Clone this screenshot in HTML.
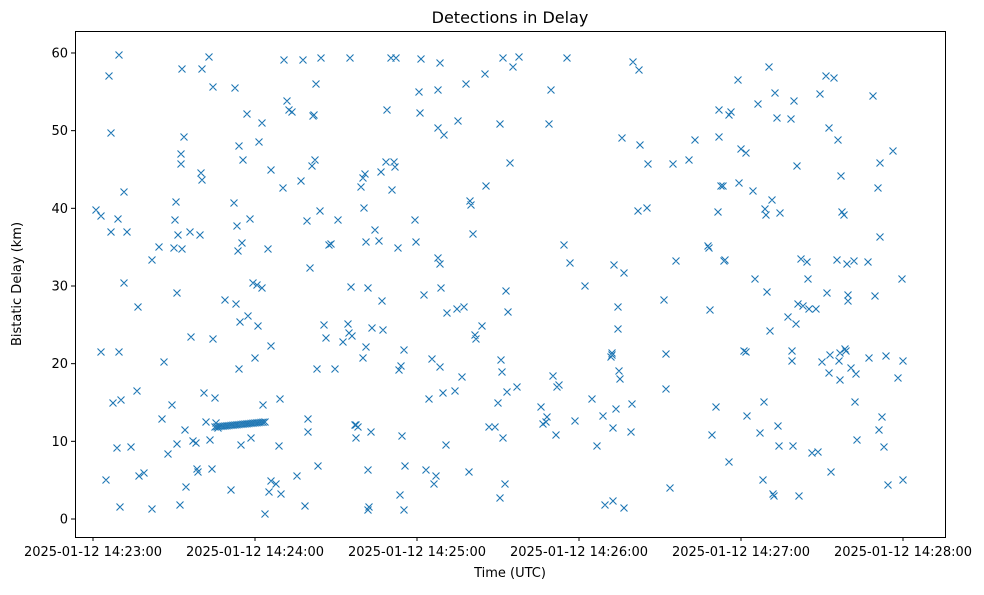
<!DOCTYPE html>
<html><head><meta charset="utf-8"><style>
body{margin:0;background:#fff;}
svg text{font-family:"DejaVu Sans","Liberation Sans",sans-serif;fill:#000;}
</style></head><body>
<svg id="s" width="984" height="590" xmlns="http://www.w3.org/2000/svg">
<rect x="0" y="0" width="984" height="590" fill="#fff"/>
<text x="510" y="23" font-size="16" text-anchor="middle">Detections in Delay</text>
<g id="pts" stroke="#1f77b4" stroke-width="1.1" fill="none"></g>
<rect x="75.5" y="31.5" width="870" height="506" fill="none" stroke="#000" stroke-width="1"/>
<g id="ticks" stroke="#000" stroke-width="1"></g>
<g id="labels" font-size="13"></g>
<text x="510" y="577" font-size="13" text-anchor="middle">Time (UTC)</text>
<text transform="translate(21,284) rotate(-90)" font-size="13" text-anchor="middle">Bistatic Delay (km)</text>
</svg>
<script>
const ns="http://www.w3.org/2000/svg";
const P=[[96,210],[101,216],[101,352],[106,480],[109,76],[111,133],[111,232],[113,403],[117,448],[118,219],[119,352],[119,55],[120,507],[121,400],[124,283],[124,192],[127,232],[131,447],[137,391],[138,307],[139,476],[144,473],[152,509],[152,260],[159,247],[162,419],[164,362],[168,454],[172,405],[174,248],[175,220],[176,202],[177,293],[177,444],[178,235],[180,505],[181,164],[181,154],[182,69],[184,137],[182,249],[185,430],[186,487],[190,232],[191,337],[193,441],[196,443],[197,469],[198,472],[200,235],[202,69],[201,173],[202,180],[204,393],[206,422],[209,57],[210,440],[212,469],[213,87],[213,339],[215,398],[216,423],[218,428],[225,300],[231,490],[234,203],[235,88],[236,304],[237,226],[238,251],[239,369],[239,146],[240,322],[241,445],[243,160],[242,243],[247,114],[248,316],[250,219],[251,438],[253,283],[255,358],[257,285],[258,326],[259,142],[262,123],[263,405],[262,288],[265,514],[268,249],[269,492],[271,346],[271,170],[271,481],[276,484],[279,446],[280,399],[281,494],[283,188],[284,60],[287,101],[289,110],[292,112],[297,476],[301,181],[303,60],[305,506],[307,221],[308,432],[308,419],[310,268],[312,166],[313,116],[314,115],[315,160],[316,84],[317,369],[318,466],[320,211],[321,58],[324,325],[326,338],[329,245],[331,244],[335,369],[338,220],[343,342],[348,324],[349,333],[351,287],[350,58],[352,336],[355,425],[356,425],[356,438],[358,427],[361,187],[363,178],[363,358],[364,208],[365,174],[366,347],[366,242],[368,288],[368,470],[368,510],[369,507],[371,432],[372,328],[375,230],[379,241],[381,172],[382,301],[383,330],[386,162],[387,110],[391,58],[392,190],[394,162],[395,167],[396,58],[398,248],[399,370],[400,495],[401,366],[402,436],[404,350],[404,510],[405,466],[415,220],[416,242],[419,92],[420,113],[421,59],[424,295],[426,470],[429,399],[432,359],[434,484],[436,476],[438,90],[438,128],[438,258],[440,63],[440,264],[440,367],[441,288],[443,393],[444,135],[446,445],[447,313],[455,391],[457,309],[458,121],[462,377],[464,307],[466,84],[469,472],[470,201],[471,205],[473,234],[475,335],[476,339],[482,326],[485,74],[486,186],[489,427],[495,427],[498,403],[500,498],[500,124],[501,360],[502,372],[503,58],[503,438],[505,484],[506,291],[507,392],[508,312],[510,163],[513,67],[517,387],[519,57],[541,407],[543,424],[546,422],[547,417],[549,124],[551,90],[553,376],[556,435],[557,387],[559,385],[564,245],[567,58],[570,263],[575,421],[585,286],[592,399],[597,446],[603,416],[605,505],[611,357],[612,353],[612,355],[613,501],[613,428],[614,265],[616,409],[618,329],[618,307],[619,371],[620,379],[622,138],[624,273],[624,508],[631,432],[632,404],[633,62],[638,211],[639,70],[640,145],[647,208],[648,164],[664,300],[666,354],[666,389],[670,488],[673,164],[676,261],[689,160],[695,140],[708,246],[709,248],[710,310],[712,435],[716,407],[718,212],[719,110],[719,137],[721,186],[723,186],[724,261],[725,260],[729,462],[729,115],[731,112],[738,80],[739,183],[741,149],[744,351],[746,352],[746,153],[747,416],[753,191],[755,279],[758,104],[760,433],[763,480],[764,402],[765,209],[766,215],[767,292],[769,67],[770,331],[772,200],[773,494],[774,496],[775,93],[777,118],[778,426],[779,446],[780,213],[788,317],[791,119],[792,351],[792,361],[793,446],[794,101],[796,324],[797,166],[798,304],[799,496],[801,259],[803,306],[807,262],[808,279],[809,309],[812,453],[816,309],[818,452],[820,94],[822,362],[826,76],[827,293],[829,128],[829,373],[830,355],[831,472],[834,78],[837,260],[838,140],[839,361],[840,380],[840,353],[841,176],[842,212],[844,215],[845,349],[846,351],[847,264],[848,295],[848,301],[851,368],[854,261],[855,402],[856,374],[857,440],[868,262],[869,358],[873,96],[875,296],[878,188],[879,430],[880,163],[880,237],[882,417],[884,447],[886,356],[888,485],[893,151],[898,378],[902,279],[903,361],[903,480]];
for(let i=0;i<26;i++){P.push([215+i*2,427-i*0.2]);}
let d="";
for(const [x,y] of P){d+=`M${x-3.5},${y-3.5}L${x+3.5},${y+3.5}M${x-3.5},${y+3.5}L${x+3.5},${y-3.5}`;}
const p=document.createElementNS(ns,"path");p.setAttribute("d",d);document.getElementById("pts").appendChild(p);
const T=document.getElementById("ticks"),L=document.getElementById("labels");
function line(x1,y1,x2,y2){const l=document.createElementNS(ns,"line");l.setAttribute("x1",x1);l.setAttribute("y1",y1);l.setAttribute("x2",x2);l.setAttribute("y2",y2);T.appendChild(l);}
function txt(x,y,s,a){const t=document.createElementNS(ns,"text");t.setAttribute("x",x);t.setAttribute("y",y);t.setAttribute("text-anchor",a);t.textContent=s;L.appendChild(t);}
for(let v=0;v<=60;v+=10){const y=519-v*7.767;line(75,y,71,y);txt(68,y+4.5,String(v),"end");}
for(let i=0;i<=5;i++){const x=93+162*i;line(x,537,x,541);txt(x,556,"2025-01-12 14:2"+(3+i)+":00","middle");}
</script>
</body></html>
